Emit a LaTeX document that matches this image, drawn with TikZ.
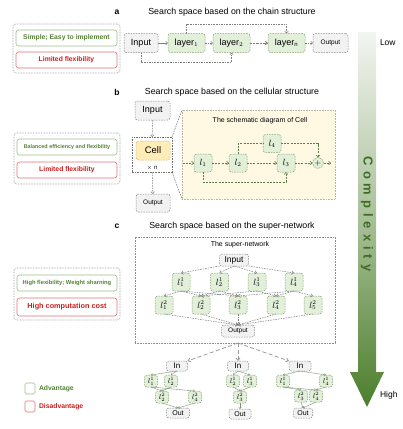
\documentclass[tikz,border=0pt]{standalone}
\usepackage{fontspec}
\setmainfont{Liberation Sans}
\usetikzlibrary{arrows.meta,shapes.geometric,calc}
\definecolor{gtext}{HTML}{548235}
\definecolor{gnb}{HTML}{9DBE87}
\definecolor{rtext}{HTML}{C81E1E}
\definecolor{rbd}{HTML}{E07474}
\definecolor{gnf}{HTML}{E2EFD9}
\definecolor{gnd}{HTML}{86A373}
\definecolor{gyb}{HTML}{8C8C8C}
\definecolor{gyf}{HTML}{F2F2F2}
\definecolor{yf}{HTML}{FFF8E3}
\definecolor{cellf}{HTML}{FFEDB8}
\definecolor{cellb}{HTML}{D9B46A}
\definecolor{arrc}{HTML}{7F7F7F}
\definecolor{carrc}{HTML}{5E7F4C}
\definecolor{subc}{HTML}{7E9270}
\definecolor{atop}{HTML}{F3F5F1}
\definecolor{abot}{HTML}{4C7E2B}
\definecolor{cxc}{HTML}{3D6E24}
\begin{document}
\begin{tikzpicture}[x=1pt,y=-1pt,
  every node/.style={inner sep=0pt, outer sep=0pt},
  dsh/.style={dash pattern=on 1.6pt off 1pt},
  dtt/.style={dash pattern=on 0.8pt off 0.8pt},
  outerbox/.style={draw=gyb!80, dtt, rounded corners=3pt, line width=0.6pt},
  advbox/.style={draw=gnb, rounded corners=2.5pt, line width=0.6pt, text=gtext, font=\bfseries},
  disbox/.style={draw=rbd, rounded corners=2.5pt, line width=0.6pt, text=rtext, font=\bfseries},
  gbox/.style={draw=gnd, dsh, fill=gnf, rounded corners=2.5pt, line width=0.5pt},
  graybox/.style={draw=gyb, dsh, fill=gyf, rounded corners=2.5pt, line width=0.5pt},
  lnode/.style={gbox, minimum width=37, minimum height=19, font=\fontsize{9}{10}\selectfont},
  snode/.style={gbox, minimum width=18, minimum height=18, font=\fontsize{9}{10}\selectfont},
  tnode/.style={gbox, minimum width=13, minimum height=12, font=\fontsize{7}{8}\selectfont},
  arr/.style={draw=arrc, dsh, line width=0.5pt, -{Straight Barb[length=2pt,width=3.5pt]}},
  carr/.style={draw=carrc, dash pattern=on 2pt off 1.2pt, line width=0.6pt, -{Straight Barb[length=2pt,width=3.5pt]}},
  bigarr/.style={draw=arrc!80, dash pattern=on 4pt off 2.5pt, line width=0.8pt, -{Straight Barb[length=2.5pt,width=4pt]}},
  subarr/.style={draw=subc, line width=0.4pt, -{Straight Barb[length=1.5pt,width=2.5pt]}},
  ttl/.style={font=\fontsize{8.8}{10}\selectfont},
  lbl/.style={font=\fontsize{8.5}{10}\selectfont\bfseries}
]
\useasboundingbox (0,0) rectangle (403,429);

% ---------------- complexity arrow
\shade[top color=atop, bottom color=abot, middle color=abot!45!atop]
  (358,32) -- (376,32) -- (376,372) -- (384,372) -- (367,407) -- (350,372) -- (358,372) -- cycle;
\node[anchor=west, font=\fontsize{8.5}{10}\selectfont] (low) at (380,43) {Low};
\node[anchor=west, font=\fontsize{8.5}{10}\selectfont] (high) at (380,395) {High};
\node[rotate=-90, text=cxc, font=\fontsize{13}{14}\selectfont\bfseries\addfontfeature{LetterSpace=38}] (cx) at (367,214) {Complexity};

% ---------------- section a
\node[lbl] (la) at (117,12) {a};
\node[ttl] (ta) at (232,12) {Search space based on the chain structure};
\node[outerbox, minimum width=107, minimum height=49] (pa) at (66.5,48.5) {};
\node[advbox, minimum width=101, minimum height=16, font=\fontsize{6.8}{8}\selectfont\bfseries] (pa1) at (66.5,38) {Simple; Easy to implement};
\node[disbox, minimum width=101, minimum height=16, font=\fontsize{6.8}{8}\selectfont\bfseries] (pa2) at (66.5,60) {Limited flexibility};

\node[graybox, minimum width=34, minimum height=19, font=\fontsize{9}{10}\selectfont] (ain) at (141,43) {Input};
\node[lnode] (al1) at (186.5,43) {layer$_1$};
\node[lnode] (al2) at (231.5,43) {layer$_2$};
\node[lnode] (aln) at (286.5,43) {layer$_{\mathrm{n}}$};
\node[graybox, minimum width=35, minimum height=19, font=\fontsize{6.5}{8}\selectfont] (aout) at (330.5,43) {Output};
\draw[arr, solid] (ain) -- (al1);
\draw[arr] (al1) -- (al2);
\draw[arr, dash pattern=on 0.7pt off 0.7pt, line width=0.9pt] (al2) -- (aln);
\draw[arr] (aln) -- (aout);
\draw[arr] (al1.north) -- ++(0,-9.5) -| (aln.north);
\draw[arr] (ain.south) -- ++(0,10) -| (al2.south);

% ---------------- section b
\node[lbl] (lb) at (117,92) {b};
\node[ttl] (tb) at (232,92) {Search space based on the cellular structure};
\node[outerbox, minimum width=106, minimum height=51] (pb) at (67,158.5) {};
\node[advbox, minimum width=100, minimum height=16, font=\fontsize{5.4}{7}\selectfont\bfseries] (pb1) at (67,147) {Balanced efficiency and flexibility};
\node[disbox, minimum width=100, minimum height=16, font=\fontsize{6.8}{8}\selectfont\bfseries] (pb2) at (67,170) {Limited flexibility};

\node[draw=yf!40!gyb, dtt, fill=yf, minimum width=153, minimum height=89] (yb) at (258.5,154.5) {};
\node[graybox, minimum width=35, minimum height=19, font=\fontsize{9}{10}\selectfont] (bin) at (152.5,110.5) {Input};
\node[draw=gyb!80!black, dsh, line width=0.5pt, minimum width=40, minimum height=35] (cg) at (152,154.5) {};
\node[draw=cellb, dsh, fill=cellf, rounded corners=2.5pt, line width=0.5pt, minimum width=34, minimum height=19, font=\fontsize{9.5}{10}\selectfont] (cell) at (153,150.5) {Cell};
\node[font=\fontsize{6}{7}\selectfont] (xn) at (152,167.5) {$\times$ n};
\node[graybox, minimum width=34, minimum height=18, font=\fontsize{6.5}{8}\selectfont] (bout) at (153,203) {Output};
\draw[arr] (bin) -- (cg);
\draw[arr] (cg) -- (bout);
\draw[draw=gyb!80!black, dsh, line width=0.5pt] (cg.north east) -- (yb.north west);
\draw[draw=gyb!80!black, dsh, line width=0.5pt] (cg.south east) -- (yb.south west);
\node[font=\fontsize{7}{8}\selectfont] (tc) at (260,121) {The schematic diagram of Cell};
\node[snode] (c1) at (203,163) {$l_1$};
\node[snode] (c2) at (238,163) {$l_2$};
\node[snode] (c3) at (286,163) {$l_3$};
\node[snode] (c4) at (272,143.5) {$l_4$};
\node[gbox, circle, minimum size=11, font=\fontsize{8}{8}\selectfont] (cp) at (318,163) {$+$};
\coordinate (cin) at (183,163);
\coordinate (cend) at (331,163);
\draw[carr] (cin) -- (c1);
\draw[carr] (c1) -- (c2);
\draw[carr] (c2) -- (c3);
\draw[carr] (c3) -- (cp);
\draw[carr] (cp) -- (cend);
\draw[carr, -] (c2.north) |- (c4.west);
\draw[carr] (c4.east) -| (cp.north);
\draw[carr] (c1.south) -- ++(0,10) -| (c3.south);

% ---------------- section c
\node[lbl] (lc) at (117,226) {c};
\node[ttl] (tcc) at (232,226) {Search space based on the super-network};
\node[outerbox, minimum width=106, minimum height=52] (pc) at (67,294) {};
\node[advbox, minimum width=100, minimum height=16, font=\fontsize{5.8}{7}\selectfont\bfseries] (pc1) at (67,283) {High flexibility; Weight sharning};
\node[disbox, minimum width=100, minimum height=18, font=\fontsize{7.3}{8}\selectfont\bfseries] (pc2) at (67,307) {High computation cost};

\node[draw=gyb, dtt, line width=0.6pt, minimum width=200, minimum height=106] (sb) at (235,290) {};
\node[font=\fontsize{7}{8}\selectfont] (tsn) at (240,245) {The super-network};
\node[graybox, minimum width=29, minimum height=12, font=\fontsize{8.5}{10}\selectfont] (sin) at (234,260) {Input};
\foreach \i/\x in {1/181,2/219.5,3/257,4/294}
  \node[snode] (u\i) at (\x,282) {$l^1_{\i}$};
\foreach \i/\x in {1/164,2/201,3/238,4/276,5/313}
  \node[snode] (v\i) at (\x,305) {$l^2_{\i}$};
\node[graybox, minimum width=33, minimum height=12, font=\fontsize{6.5}{8}\selectfont] (sout) at (238,331) {Output};
\draw[arr] (sin.south west) -- (u1.north);
\draw[arr] (sin.south) -- (u2.north);
\draw[arr] (sin.south) -- (u3.north);
\draw[arr] (sin.south east) -- (u4.north);
\foreach \a/\b in {1/1,1/2,1/3,2/2,2/3,3/2,3/4,4/3,4/4,4/5}
  \draw[arr] (u\a.south) -- (v\b.north);
\foreach \i in {1,...,5}
  \draw[arr] (v\i.south) -- (sout.north);

\coordinate (split) at (238,343);
\node[graybox, minimum width=21, minimum height=10, font=\fontsize{8}{9}\selectfont] (ina) at (177,366) {In};
\node[graybox, minimum width=21, minimum height=10, font=\fontsize{8}{9}\selectfont] (inb) at (238,366) {In};
\node[graybox, minimum width=22, minimum height=10, font=\fontsize{8}{9}\selectfont] (inc) at (300,366) {In};
\draw[bigarr] (split) -- (ina.north east);
\draw[bigarr] (split) -- (inb.north);
\draw[bigarr] (split) -- (inc.north west);

% left subnet
\node[tnode] (a11) at (151,381) {$l^1_1$};
\node[tnode] (a21) at (171,381) {$l^1_2$};
\node[tnode] (a22) at (162,397) {$l^2_2$};
\node[tnode] (a42) at (195,397) {$l^2_4$};
\node[graybox, minimum width=23, minimum height=10, font=\fontsize{7}{8}\selectfont] (aou) at (178,413) {Out};
\draw[subarr] (ina.south) -- (a11.north);
\draw[subarr] (ina.south) -- (a21.north);
\draw[subarr] (a11.south) -- (a22.north);
\draw[subarr] (a21.south) -- (a22.north);
\draw[subarr] (a11.south) -- (a42.north);
\draw[subarr] (a22.south) -- (aou.north);
\draw[subarr] (a42.south) -- (aou.north);

% middle subnet
\node[tnode] (b21) at (233,381) {$l^1_2$};
\node[tnode] (b31) at (250,381) {$l^1_3$};
\node[tnode] (b32) at (240,397) {$l^2_3$};
\node[graybox, minimum width=22, minimum height=10, font=\fontsize{7}{8}\selectfont] (bou) at (240,414) {Out};
\draw[subarr] (inb.south) -- (b21.north);
\draw[subarr] (inb.south) -- (b31.north);
\draw[subarr] (b21.south) -- (b32.north);
\draw[subarr] (b31.south) -- (b32.north);
\draw[subarr] (b32.south) -- (bou.north);

% right subnet
\node[tnode] (r11) at (283,381) {$l^1_1$};
\node[tnode] (r41) at (326,381) {$l^1_4$};
\node[tnode] (r32) at (301,396) {$l^2_3$};
\node[tnode] (r42) at (316,396) {$l^2_4$};
\node[graybox, minimum width=19, minimum height=10, font=\fontsize{7}{8}\selectfont] (rou) at (303,413) {Out};
\draw[subarr] (inc.south) -- (r11.north);
\draw[subarr] (inc.south) -- (r41.north);
\draw[subarr] (r11.south) -- (r32.north);
\draw[subarr] (r11.south) -- (r42.north);
\draw[subarr] (r41.south) -- (r42.north);
\draw[subarr] (r32.south) -- (rou.north);
\draw[subarr] (r42.south) -- (rou.north);

% legend
\node[draw=gnb, rounded corners=1.5pt, line width=0.6pt, minimum width=10, minimum height=11] (lg1) at (30,388.5) {};
\node[anchor=west, text=gtext, font=\fontsize{6.8}{8}\selectfont\bfseries] (lt1) at (39,388.5) {Advantage};
\node[draw=rbd, rounded corners=1.5pt, line width=0.6pt, minimum width=10, minimum height=11] (lg2) at (30,406.5) {};
\node[anchor=west, text=rtext, font=\fontsize{6.8}{8}\selectfont\bfseries] (lt2) at (39,406.5) {Disadvantage};
\end{tikzpicture}
\end{document}
